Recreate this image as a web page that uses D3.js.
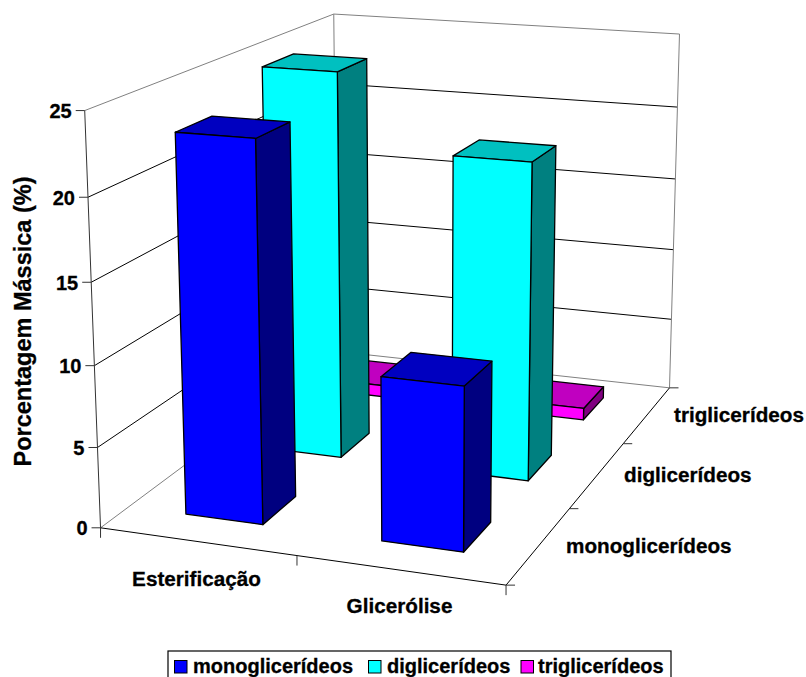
<!DOCTYPE html>
<html><head><meta charset="utf-8">
<script src="https://cdn.jsdelivr.net/npm/d3@7"></script>
<style>html,body{margin:0;padding:0;background:#fff;overflow:hidden}</style>
</head><body><svg id="chart" width="806" height="677"></svg>
<script>
const categories = ["Esterificação", "Glicerólise"];
const seriesNames = ["monoglicerídeos", "diglicerídeos", "triglicerídeos"];
const monoValues = [23.3, 10];
const diValues = [25, 20.3];
const triValues = [0.8, 0.8];
const valueTicks = [0, 5, 10, 15, 20, 25];

const faceColors = {
  "monoglicerídeos": {front: "#0000ff", top: "#0000c0", side: "#000080"},
  "diglicerídeos": {front: "#00ffff", top: "#00c0c0", side: "#008080"},
  "triglicerídeos": {front: "#ff00ff", top: "#c000c0", side: "#800080"}
};
const seriesValues = [monoValues, diValues, triValues];

// Unit-cube scales: x across categories, z into the page, v up.
const x = d3.scaleBand().domain(categories).range([0, 1]).paddingInner(0.6).paddingOuter(0.3);
const z = d3.scaleBand().domain(seriesNames).range([0, 1]).paddingInner(0.6).paddingOuter(0.3);
const v = d3.scaleLinear().domain([0, 25]).range([0, 1]);

// Camera: least-squares projective map from known points of the box to the screen.
const anchors = [
  [0,0,0,101,527.5],[1,0,0,506,585],[1,1,0,670,388],
  [0,0,1,85,110.7],[0,1,1,334,14],[1,1,1,680,34],
  [0,0,.2,97,447.7],[0,0,.4,94,366],[0,0,.6,91,282.5],[0,0,.8,88,197],
  [1,1,.8,677,107],[1,1,.6,675,179],[1,1,.2,671,319],
  [1,1/3,0,570,509],[1,2/3,0,623,444],[.5,0,0,297,555]
];
function fitCamera(pts) {
  const n = 11, A = Array.from({length:n},()=>new Array(n+1).fill(0));
  const add = (r,b)=>{ for(let i=0;i<n;i++){ for(let j=0;j<n;j++) A[i][j]+=r[i]*r[j]; A[i][n]+=r[i]*b; } };
  pts.forEach(([X,Y,Z,sx,sy])=>{
    add([X,Y,Z,1,0,0,0,0,-sx*X,-sx*Y,-sx*Z],sx);
    add([0,0,0,0,X,Y,Z,1,-sy*X,-sy*Y,-sy*Z],sy);
  });
  for(let c=0;c<n;c++){
    let m=c; for(let r=c+1;r<n;r++) if(Math.abs(A[r][c])>Math.abs(A[m][c])) m=r;
    [A[c],A[m]]=[A[m],A[c]];
    for(let r=0;r<n;r++){ if(r===c) continue; const f=A[r][c]/A[c][c]; for(let j=c;j<=n;j++) A[r][j]-=f*A[c][j]; }
  }
  return A.map((row,i)=>row[n]/row[i]);
}
const P = fitCamera(anchors);
function project(a,b,c){
  const w=P[8]*a+P[9]*b+P[10]*c+1;
  return [(P[0]*a+P[1]*b+P[2]*c+P[3])/w,(P[4]*a+P[5]*b+P[6]*c+P[7])/w];
}
const pathOf = pts => d3.line()(pts)+"Z";
const svg = d3.select("#chart");
const font = "'Liberation Sans', Arial, sans-serif";

function seg(a,b,color,width=1){
  svg.append("line").attr("x1",a[0]).attr("y1",a[1]).attr("x2",b[0]).attr("y2",b[1])
    .attr("stroke",color).attr("stroke-width",width);
}
const GREY="#808080", INK="#000";

// Gridlines on the left and back walls.
valueTicks.forEach(t=>{
  const h=v(t), col=(t===0||t===25)?GREY:INK;
  seg(project(0,0,h),project(0,1,h),col);
  seg(project(0,1,h),project(1,1,h),col);
});
seg(project(0,1,0),project(0,1,1),GREY);
seg(project(1,1,0),project(1,1,1),GREY);

// Front axes and tick marks.
seg(project(0,0,0),project(0,0,1),"#333");
seg(project(0,0,0),project(1,0,0),INK);
seg(project(1,0,0),project(1,1,0),INK);
valueTicks.forEach(t=>{
  const p=project(0,0,v(t)); seg([p[0]-9,p[1]],p,"#333");
});
[0,.5,1].forEach(t=>{ const p=project(t,0,0); seg(p,[p[0],p[1]+10],"#333"); });
[0,1/3,2/3,1].forEach(t=>{ const p=project(1,t,0); seg(p,[p[0]+9,p[1]],"#333"); });

// Bars, back row first so nearer rows overlap them.
d3.range(seriesNames.length-1,-1,-1).forEach(si=>{
  const name=seriesNames[si], c=faceColors[name];
  categories.forEach((cat,ci)=>{
    const x0=x(cat),x1=x0+x.bandwidth(),z0=z(name),z1=z0+z.bandwidth(),h=v(seriesValues[si][ci]);
    const g=svg.append("g").attr("stroke",INK).attr("stroke-width",1.3).attr("stroke-linejoin","round");
    g.append("path").attr("fill",c.side).attr("d",pathOf([project(x1,z0,0),project(x1,z1,0),project(x1,z1,h),project(x1,z0,h)]));
    g.append("path").attr("fill",c.top).attr("d",pathOf([project(x0,z0,h),project(x1,z0,h),project(x1,z1,h),project(x0,z1,h)]));
    g.append("path").attr("fill",c.front).attr("d",pathOf([project(x0,z0,0),project(x1,z0,0),project(x1,z0,h),project(x0,z0,h)]));
  });
});

function label(s,px,py,size,anchor="start"){
  return svg.append("text").text(s).attr("x",px).attr("y",py).attr("font-family",font)
    .attr("font-weight","bold").attr("font-size",size).attr("text-anchor",anchor)
    .attr("fill","#000").attr("stroke","#000").attr("stroke-width",0.3);
}
valueTicks.forEach(t=>{
  const p=project(0,0,v(t)); label(t,p[0]-13,p[1]+7.5,20,"end");
});
const catLabelPos=[[196.5,585.5],[399.5,613]];
categories.forEach((c,i)=>label(c,catLabelPos[i][0],catLabelPos[i][1],20.7,"middle"));
const seriesLabelPos=[[566,553],[624,482],[674,422]];
seriesNames.forEach((s,i)=>label(s,seriesLabelPos[i][0],seriesLabelPos[i][1],20.7));
label("Porcentagem Mássica (%)",0,0,23.5,"middle").attr("transform","translate(30.5,321.5) rotate(-90)");

// Legend strip running off the lower edge.
svg.append("rect").attr("x",168).attr("y",651).attr("width",503).attr("height",40).attr("fill","#fff").attr("stroke",INK).attr("stroke-width",1.2);
const legendSwatchX=[174.5,368.5,521], legendTextX=[193,387,538];
seriesNames.forEach((s,i)=>{
  svg.append("rect").attr("x",legendSwatchX[i]).attr("y",660.5).attr("width",12.5).attr("height",12.5)
    .attr("fill",faceColors[s].front).attr("stroke",INK);
  label(s,legendTextX[i],673,20);
});
</script></body></html>
